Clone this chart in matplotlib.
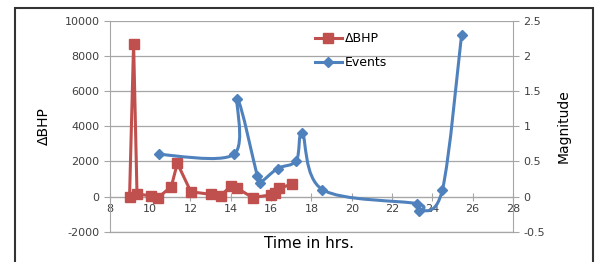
import numpy as np
import matplotlib
matplotlib.use('Agg')
import matplotlib.pyplot as plt
from matplotlib.path import Path
from matplotlib.patches import PathPatch, Rectangle
from matplotlib.lines import Line2D
from matplotlib.ticker import FuncFormatter

plt.rcParams['axes.unicode_minus'] = False

# dBHP series (left axis)
bhp_time = [8.98, 9.18, 9.35, 10.05, 10.4, 11.05, 11.35, 12.02, 13.02, 13.5,
            14.0, 14.33, 15.08, 15.98, 16.17, 16.4, 17.05]
bhp_val = [0, 8700, 150, 50, -50, 570, 1900, 280, 130, 50,
           600, 475, -50, 100, 200, 475, 720]

# seismic events (right axis)
ev_time = [10.42, 14.15, 14.33, 15.32, 15.45, 16.32, 17.25, 17.55, 18.55,
           23.25, 23.35, 24.5, 25.45]
ev_mag = [0.6, 0.6, 1.39, 0.29, 0.2, 0.4, 0.51, 0.9, 0.1, -0.1, -0.2, 0.1, 2.3]

RED = '#C0504D'
BLUE = '#4F81BD'
GRID = '#A6A6A6'


def smooth_path(xs, ys):
    # Excel-style smoothed line: Catmull-Rom segments as cubic Beziers
    pts = np.column_stack([xs, ys])
    verts = [pts[0]]
    codes = [Path.MOVETO]
    n = len(pts)
    for i in range(n - 1):
        p0 = pts[max(i - 1, 0)]
        p1 = pts[i]
        p2 = pts[i + 1]
        p3 = pts[min(i + 2, n - 1)]
        c1 = p1 + (p2 - p0) / 6.0
        c2 = p2 - (p3 - p1) / 6.0
        verts += [c1, c2, p2]
        codes += [Path.CURVE4] * 3
    return Path(verts, codes)


fig = plt.figure(figsize=(6, 2.62), dpi=100)
ax = fig.add_axes([0.183, 0.115, 0.672, 0.806])
ax2 = ax.twinx()

ax.plot(bhp_time, bhp_val, color=RED, lw=2.2, marker='s', ms=6.5,
        markeredgecolor=RED, zorder=3)

ax2.add_patch(PathPatch(smooth_path(ev_time, ev_mag), facecolor='none',
                        edgecolor=BLUE, lw=2.2, zorder=3))
ax2.plot(ev_time, ev_mag, ls='none', color=BLUE, marker='D', ms=5, zorder=4)

ax.set_xlim(8, 28)
ax.set_ylim(-2000, 10000)
ax.set_yticks(range(-2000, 10001, 2000))
ax.set_xticks(range(8, 29, 2))
ax2.set_ylim(-0.5, 2.5)
ax2.set_yticks(np.arange(-0.5, 2.51, 0.5))
ax2.yaxis.set_major_formatter(FuncFormatter(lambda v, p: ('%g' % v)))

ax.yaxis.grid(True, color=GRID, lw=0.9)
ax.axhline(-2000, color=GRID, lw=0.9, clip_on=False, zorder=1)
ax.set_axisbelow(True)

for a in (ax, ax2):
    for s in a.spines.values():
        s.set_color(GRID)
    a.spines['top'].set_visible(False)
ax.spines['bottom'].set_position(('data', 0))
ax2.spines['bottom'].set_visible(False)
ax2.spines['left'].set_visible(False)
ax.spines['right'].set_visible(False)

ax.tick_params(axis='x', direction='inout', length=6, color=GRID,
               labelsize=8, labelcolor='#404040', pad=2)
ax.tick_params(axis='y', direction='out', length=4, color=GRID,
               labelsize=8, labelcolor='#404040')
ax2.tick_params(axis='y', direction='out', length=4, color=GRID,
                labelsize=8, labelcolor='#404040')

ax.set_ylabel('ΔBHP', fontsize=10, labelpad=10)
ax2.set_ylabel('Magnitude', fontsize=10, labelpad=8)
fig.text(0.515, 0.07, 'Time in hrs.', fontsize=11, ha='center', va='center')

handles = [Line2D([], [], color=RED, lw=2.2, marker='s', ms=6.5),
           Line2D([], [], color=BLUE, lw=2.2, marker='D', ms=5)]
ax.legend(handles, ['ΔBHP', 'Events'], loc='upper left',
          bbox_to_anchor=(0.48, 1.0), frameon=False, fontsize=9,
          handlelength=2.2, handletextpad=0.2, labelspacing=0.9)

fig.patches.append(Rectangle((15 / 600, -0.1), 578 / 600, 1.1 - 8 / 262,
                             transform=fig.transFigure, fill=False,
                             edgecolor='#333333', lw=1.5))

fig.savefig('out.png', dpi=100)
